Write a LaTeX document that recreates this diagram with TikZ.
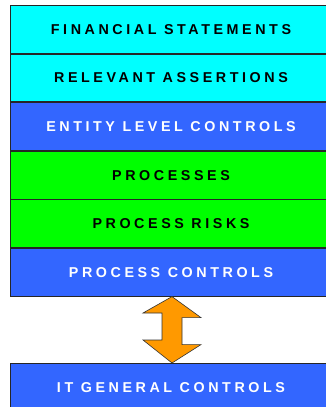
\documentclass[tikz,border=0pt]{standalone}
\usepackage{fontspec}
\usepackage{tikz}
\usetikzlibrary{positioning,calc}
\newfontfamily\layerfont[LetterSpace=25]{Liberation Sans}

\definecolor{assertcyan}{HTML}{00FFFF}
\definecolor{controlblue}{HTML}{3366FF}
\definecolor{processgreen}{HTML}{00FF00}
\definecolor{linkorange}{HTML}{FF9900}

\tikzset{
	layer/.style={draw=black!85, line width=0.8pt, minimum width=322pt,
		minimum height=47.8pt, inner sep=0pt, anchor=north,
		font=\layerfont\bfseries\fontsize{14.3}{16}\selectfont},
	dark/.style={layer, text=black},
	light/.style={layer, text=white}
}

\begin{document}
\begin{tikzpicture}[x=1pt, y=1pt]
	\useasboundingbox (0,0) rectangle (326,-407);
	\node[dark, fill=assertcyan] (fs) at (171,-5) {FINANCIAL STATEMENTS};
	\node[dark, fill=assertcyan, below=0pt of fs] (ra) {RELEVANT ASSERTIONS};
	\node[light, fill=controlblue, below=0pt of ra] (elc) {ENTITY LEVEL CONTROLS};
	\node[dark, fill=processgreen, below=0pt of elc] (proc) {PROCESSES};
	\node[dark, fill=processgreen, below=0pt of proc] (risk) {PROCESS RISKS};
	\node[light, fill=controlblue, below=0pt of risk] (pc) {PROCESS CONTROLS};
	\node[light, fill=controlblue] (itgc) at (171,-363) {IT GENERAL CONTROLS};
	% two-way link between process controls and ITGC
	\draw[fill=linkorange, draw=black!80, line width=0.6pt]
		($(pc.south)+(1,0)$) -- ++(29,-21) -- ++(-19,0) -- ++(0,-27)
		-- ++(19,0) -- ($(itgc.north)+(1,0)$) -- ++(-29,23) -- ++(19,0)
		-- ++(0,27) -- ++(-19,0) -- cycle;
\end{tikzpicture}
\end{document}
